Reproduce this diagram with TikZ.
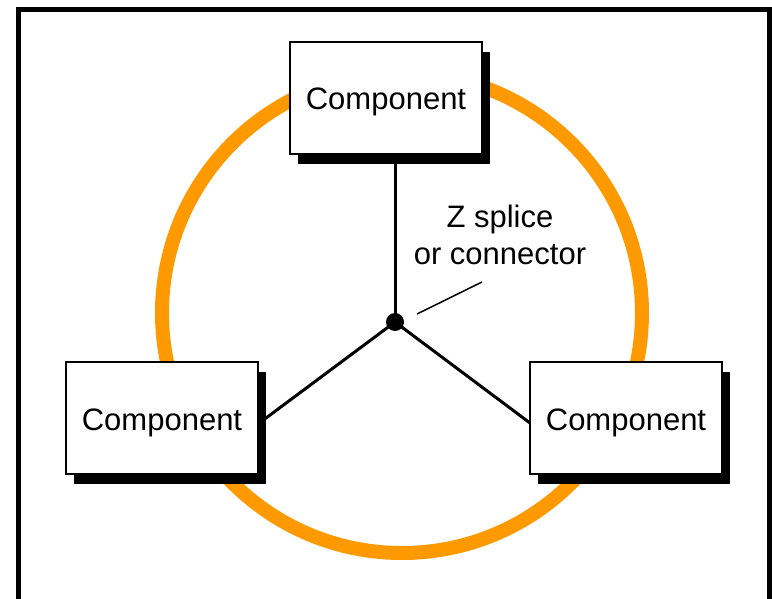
\documentclass[tikz,border=0pt]{standalone}
\usepackage{fontspec}
\setmainfont{Liberation Sans}
\usetikzlibrary{shadows}
\definecolor{ringorange}{RGB}{255,153,0}
\begin{document}
\begin{tikzpicture}[x=1pt,y=-1pt,
  comp/.style={draw=black,line width=2pt,fill=white,minimum width=192pt,minimum height=112pt,
    inner sep=0pt,text height=24pt,text depth=0pt,font=\fontsize{31}{37}\selectfont,
    drop shadow={shadow xshift=8pt,shadow yshift=-10pt,opacity=1,fill=black}},
  wire/.style={line width=3pt,black},
  ring/.style={draw=ringorange,line width=14pt},
  lbl/.style={align=center,inner sep=0pt,font=\fontsize{31}{37}\selectfont}]
\useasboundingbox (0,0) rectangle (772,599);
\fill[white] (0,0) rectangle (772,599);
% frame
\draw[line width=5pt] (18,610) -- (18,10) -- (769,10) -- (769,610);
% ring
\draw[ring] (402,313) circle[radius=240];
% splice point and box positions
\coordinate (dotc) at (395,322);
\coordinate (topc) at (386,98);
\coordinate (leftc) at (162,418);
\coordinate (rightc) at (626,418);
% wires (drawn first, boxes cover the ends)
\draw[wire] (dotc) -- (dotc |- 0,150);
\draw[wire] (dotc) -- ([yshift=-6pt]leftc -| 258,0);
\draw[wire] (dotc) -- ([yshift=-5pt]rightc -| 530,0);
% components
\node[comp] (top) at (topc) {Component};
\node[comp] (left) at (leftc) {Component};
\node[comp] (right) at (rightc) {Component};
% splice dot
\fill[black] (dotc) circle[radius=9];
% label
\node[lbl] (zlabel) at (500,235) {Z splice\\or connector};
\coordinate (ptrA) at (417,314);
\coordinate (ptrB) at (482,282);
\draw[line width=1.5pt] (ptrA) -- (ptrB);
\end{tikzpicture}
\end{document}
